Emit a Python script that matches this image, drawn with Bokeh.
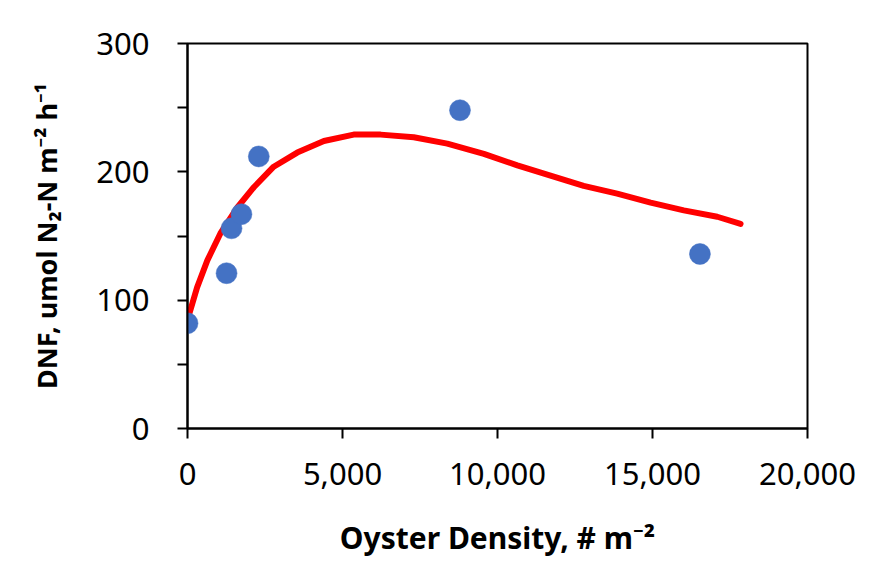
from bokeh.plotting import figure
from bokeh.models import Range1d, FixedTicker, NumeralTickFormatter
from bokeh.embed import file_html
from bokeh.resources import INLINE

# Observed data points
oyster_density = [0, 1260, 1420, 1740, 2300, 8790, 16530]
dnf = [82, 121, 156, 167, 212, 248, 136]

# Fitted curve
fit_x = [0, 40, 310, 640, 1060, 1600, 2140, 2780, 3540, 4400, 5360, 6230, 7300, 8380,
         9560, 10640, 11710, 12780, 13860, 14940, 16010, 17090, 17840]
fit_y = [85, 88, 110, 131, 152, 172, 188, 204, 215, 224, 229, 229, 227, 222,
         214, 205, 197, 189, 183, 176, 170, 165, 159.5]

x_ticks = [0, 5000, 10000, 15000, 20000]
y_ticks = [0, 100, 200, 300]
y_minor = [50, 150, 250]

x_title = "Oyster Density, # m\u207b\u00b2"
y_title = "DNF, umol N\u2082-N m\u207b\u00b2 h\u207b\u00b9"

FONT = "Noto Sans"

p = figure(width=880, height=567, output_backend="svg", toolbar_location=None,
           x_range=Range1d(0, 20000), y_range=Range1d(0, 300),
           min_border_left=187, min_border_right=73, min_border_top=43, min_border_bottom=139)
p.background_fill_color = "white"
p.border_fill_color = "white"
p.outline_line_color = "black"
p.outline_line_width = 2
p.xgrid.visible = False
p.ygrid.visible = False

p.line(fit_x, fit_y, line_color="#FF0000", line_width=6, line_cap="round", line_join="round")
p.scatter(oyster_density, dnf, size=21, fill_color="#4472C4", line_color="#4472C4", line_width=0.5)

xa = p.xaxis[0]
xa.ticker = FixedTicker(ticks=x_ticks)
xa.formatter = NumeralTickFormatter(format="0,0")
ya = p.yaxis[0]
ya.ticker = FixedTicker(ticks=y_ticks, minor_ticks=y_minor)

for ax in (xa, ya):
    ax.axis_line_color = "black"
    ax.axis_line_width = 2
    ax.major_tick_line_color = "black"
    ax.major_tick_line_width = 2
    ax.major_tick_in = 0
    ax.major_tick_out = 10
    ax.minor_tick_line_color = "black"
    ax.minor_tick_line_width = 2
    ax.minor_tick_in = 0
    ax.minor_tick_out = 10
    ax.major_label_text_font = FONT
    ax.major_label_text_font_size = "31px"
    ax.major_label_text_color = "black"
    ax.axis_label_text_font = FONT
    ax.axis_label_text_font_style = "bold"
    ax.axis_label_text_color = "black"

xa.minor_tick_out = 0
xa.major_label_standoff = 24
ya.major_label_standoff = 28
xa.axis_label = x_title
ya.axis_label = y_title
xa.axis_label_text_font_size = "30px"
ya.axis_label_text_font_size = "27px"
xa.axis_label_standoff = 29
ya.axis_label_standoff = 28

open("out.html", "w").write(file_html(p, INLINE))
